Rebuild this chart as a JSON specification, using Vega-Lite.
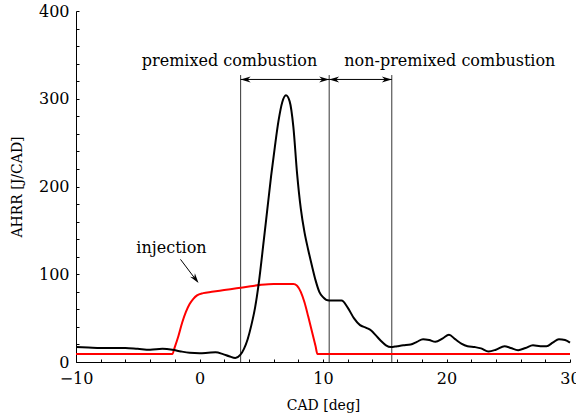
{
  "$schema": "https://vega.github.io/schema/vega-lite/v6.json",
  "width": 494,
  "height": 351,
  "autosize": {"type": "none"},
  "padding": {"left": 76, "top": 11, "right": 6, "bottom": 55},
  "background": "white",
  "config": {
    "view": {"stroke": null},
    "font": "DejaVu Serif",
    "axis": {
      "domainColor": "black",
      "domainWidth": 1,
      "tickColor": "black",
      "tickWidth": 1,
      "ticks": true,
      "grid": false,
      "labelFont": "DejaVu Serif",
      "labelFontSize": 16,
      "labelColor": "black",
      "titleFont": "DejaVu Serif",
      "titleFontSize": 14,
      "titleFontWeight": "normal",
      "titleColor": "black"
    }
  },
  "datasets": {
    "ahrr": [
      {"cad": -10, "v": 17}, {"cad": -9, "v": 16.5}, {"cad": -8, "v": 16}, {"cad": -7, "v": 16}, {"cad": -6, "v": 16},
      {"cad": -5, "v": 15}, {"cad": -4, "v": 14}, {"cad": -3, "v": 15}, {"cad": -2.2, "v": 14}, {"cad": -1.5, "v": 12},
      {"cad": -0.8, "v": 10.5}, {"cad": 0, "v": 10}, {"cad": 0.7, "v": 10.5}, {"cad": 1.3, "v": 11}, {"cad": 1.9, "v": 9},
      {"cad": 2.4, "v": 6.5}, {"cad": 2.9, "v": 4.5}, {"cad": 3.3, "v": 8}, {"cad": 3.6, "v": 15}, {"cad": 3.9, "v": 26},
      {"cad": 4.2, "v": 42}, {"cad": 4.5, "v": 62}, {"cad": 4.8, "v": 90}, {"cad": 5.2, "v": 138}, {"cad": 5.5, "v": 175},
      {"cad": 5.8, "v": 212}, {"cad": 6.1, "v": 245}, {"cad": 6.4, "v": 275}, {"cad": 6.7, "v": 296}, {"cad": 7.0, "v": 304},
      {"cad": 7.3, "v": 297}, {"cad": 7.6, "v": 268}, {"cad": 7.9, "v": 215}, {"cad": 8.2, "v": 175}, {"cad": 8.5, "v": 148},
      {"cad": 8.8, "v": 128}, {"cad": 9.1, "v": 110}, {"cad": 9.4, "v": 93}, {"cad": 9.7, "v": 80}, {"cad": 10.0, "v": 74},
      {"cad": 10.5, "v": 70}, {"cad": 11.0, "v": 70}, {"cad": 11.5, "v": 70}, {"cad": 12.0, "v": 62}, {"cad": 12.5, "v": 50},
      {"cad": 13.0, "v": 42}, {"cad": 13.5, "v": 39}, {"cad": 13.9, "v": 36}, {"cad": 14.3, "v": 30}, {"cad": 14.7, "v": 24},
      {"cad": 15.1, "v": 19}, {"cad": 15.5, "v": 17}, {"cad": 16.0, "v": 18}, {"cad": 16.5, "v": 19}, {"cad": 17.1, "v": 20},
      {"cad": 17.6, "v": 23}, {"cad": 18.1, "v": 26}, {"cad": 18.6, "v": 25}, {"cad": 19.1, "v": 23}, {"cad": 19.7, "v": 27},
      {"cad": 20.2, "v": 31}, {"cad": 20.7, "v": 26}, {"cad": 21.2, "v": 21}, {"cad": 21.7, "v": 18}, {"cad": 22.3, "v": 17},
      {"cad": 22.8, "v": 15.5}, {"cad": 23.4, "v": 12}, {"cad": 24.0, "v": 14}, {"cad": 24.7, "v": 18}, {"cad": 25.2, "v": 16},
      {"cad": 25.8, "v": 13.5}, {"cad": 26.4, "v": 16}, {"cad": 27.0, "v": 19}, {"cad": 27.6, "v": 18}, {"cad": 28.1, "v": 18},
      {"cad": 28.6, "v": 22}, {"cad": 29.1, "v": 26}, {"cad": 29.6, "v": 25}, {"cad": 30, "v": 22}
    ],
    "inj": [
      {"cad": -10, "v": 9}, {"cad": -2.2, "v": 9}, {"cad": -2.0, "v": 17}, {"cad": -1.7, "v": 30}, {"cad": -1.4, "v": 45},
      {"cad": -1.1, "v": 57}, {"cad": -0.8, "v": 66}, {"cad": -0.5, "v": 72}, {"cad": -0.2, "v": 76}, {"cad": 0.3, "v": 78.5},
      {"cad": 1, "v": 80}, {"cad": 2, "v": 82}, {"cad": 3, "v": 84}, {"cad": 4, "v": 86}, {"cad": 5, "v": 88},
      {"cad": 6, "v": 89}, {"cad": 7, "v": 89}, {"cad": 7.6, "v": 89}, {"cad": 7.9, "v": 87}, {"cad": 8.2, "v": 80},
      {"cad": 8.5, "v": 68}, {"cad": 8.8, "v": 52}, {"cad": 9.1, "v": 35}, {"cad": 9.4, "v": 18}, {"cad": 9.55, "v": 9},
      {"cad": 30, "v": 9}
    ],
    "vlines": [
      {"x": 3.33, "y1": 0, "y2": 327}, {"x": 10.5, "y1": 0, "y2": 327}, {"x": 15.57, "y1": 0, "y2": 327}
    ],
    "arrows": [
      {"x1": 3.33, "x2": 10.5, "y1": 322, "y2": 322},
      {"x1": 10.5, "x2": 15.57, "y1": 322, "y2": 322},
      {"x1": -1.54, "x2": -0.2, "y1": 117, "y2": 92}
    ],
    "heads": [
      {"x": 10.5, "y": 322, "dir": "right"}, {"x": 15.57, "y": 322, "dir": "right"},
      {"x": 3.33, "y": 322, "dir": "left"}, {"x": 10.5, "y": 322, "dir": "left"},
      {"x": -0.08, "y": 90, "dir": "diag"}
    ],
    "labels": [
      {"x": 2.43, "y": 337, "text": "premixed combustion"},
      {"x": 20.27, "y": 337, "text": "non-premixed combustion"},
      {"x": -2.27, "y": 124.5, "text": "injection"}
    ]
  },
  "encoding": {
    "x": {"field": "x", "type": "quantitative", "scale": {"domain": [-10, 30], "nice": false, "zero": false},
      "axis": {"title": "CAD [deg]", "values": [-10,-8,-6,-4,-2,0,2,4,6,8,10,12,14,16,18,20,22,24,26,28,30],
        "labelExpr": "datum.value % 10 == 0 ? format(datum.value, 'd') : ''", "tickSize": -3, "labelPadding": 11, "titlePadding": 12, "labelFlush": false, "labelOverlap": false}},
    "y": {"field": "y", "type": "quantitative", "scale": {"domain": [0, 400], "nice": false},
      "axis": {"title": "AHRR [J/CAD]", "values": [0,20,40,60,80,100,120,140,160,180,200,220,240,260,280,300,320,340,360,380,400],
        "labelExpr": "datum.value % 100 == 0 ? format(datum.value, 'd') : ''", "tickSize": -3, "labelPadding": 10, "titlePadding": 14, "labelFlush": false, "labelOverlap": false}}
  },
  "layer": [
    {
      "data": {"name": "vlines"},
      "mark": {"type": "rule", "color": "black", "strokeWidth": 0.8},
      "encoding": {
        "y": {"field": "y1", "type": "quantitative"},
        "y2": {"field": "y2"}
      }
    },
    {
      "data": {"name": "arrows"},
      "mark": {"type": "rule", "color": "black", "strokeWidth": 1},
      "encoding": {
        "x": {"field": "x1", "type": "quantitative"},
        "x2": {"field": "x2"},
        "y": {"field": "y1", "type": "quantitative"},
        "y2": {"field": "y2"}
      }
    },
    {
      "data": {"name": "heads"},
      "transform": [{"filter": "datum.dir == 'right'"}],
      "mark": {"type": "point", "filled": true, "color": "black", "opacity": 1, "size": 100, "shape": "M0,0L-2,-0.6L-1.4,0L-2,0.6Z"},
      "encoding": {}
    },
    {
      "data": {"name": "heads"},
      "transform": [{"filter": "datum.dir == 'left'"}],
      "mark": {"type": "point", "filled": true, "color": "black", "opacity": 1, "size": 100, "angle": 180, "shape": "M0,0L-2,-0.6L-1.4,0L-2,0.6Z"},
      "encoding": {}
    },
    {
      "data": {"name": "heads"},
      "transform": [{"filter": "datum.dir == 'diag'"}],
      "mark": {"type": "point", "filled": true, "color": "black", "opacity": 1, "size": 100, "angle": 53, "shape": "M0,0L-2,-0.6L-1.4,0L-2,0.6Z"},
      "encoding": {}
    },
    {
      "data": {"name": "inj"},
      "mark": {"type": "line", "color": "#ff0000", "strokeWidth": 2, "interpolate": "monotone"},
      "encoding": {
        "x": {"field": "cad", "type": "quantitative"},
        "y": {"field": "v", "type": "quantitative"}
      }
    },
    {
      "data": {"name": "ahrr"},
      "mark": {"type": "line", "color": "black", "strokeWidth": 2, "interpolate": "monotone"},
      "encoding": {
        "x": {"field": "cad", "type": "quantitative"},
        "y": {"field": "v", "type": "quantitative"}
      }
    },
    {
      "data": {"name": "labels"},
      "mark": {"type": "text", "font": "DejaVu Serif", "fontSize": 16, "color": "black", "align": "center", "baseline": "alphabetic"},
      "encoding": {
        "text": {"field": "text"}
      }
    }
  ]
}
